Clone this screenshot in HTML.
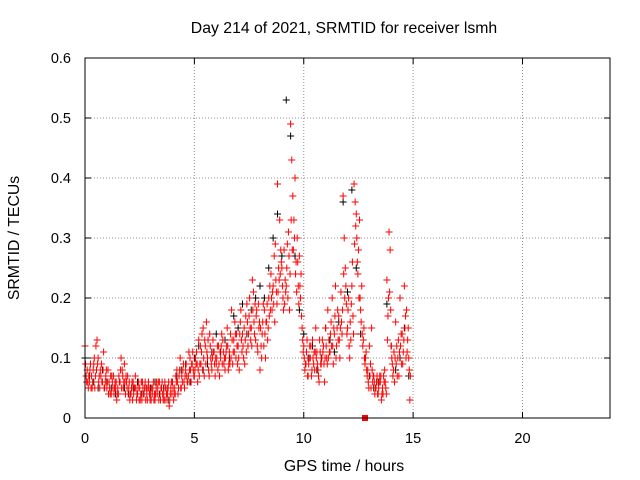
<!DOCTYPE html>
<html><head><meta charset="utf-8"><style>
body{margin:0;background:#fff;}
svg{display:block;font-family:"Liberation Sans",sans-serif;}
</style></head><body>
<svg id="chart" width="640" height="480">
<rect width="640" height="480" fill="#fff"/>
<text x="344" y="33" font-size="15.8" text-anchor="middle">Day 214 of 2021, SRMTID for receiver lsmh</text>
<text x="344" y="471" font-size="15.8" text-anchor="middle">GPS time / hours</text>
<text x="19" y="238" font-size="15.8" text-anchor="middle" transform="rotate(-90 19 238)">SRMTID / TECUs</text>
<g id="grid"></g>
<g id="ticks"></g>
<g id="black"></g>
<g id="red"></g>
<rect x="85" y="58" width="525" height="360" fill="none" stroke="#000"/>
</svg>
<script>
const xTicks = [0,5,10,15,20];
const yTicks = [0,0.1,0.2,0.3,0.4,0.5,0.6];
const yTickLabels = ["0","0.1","0.2","0.3","0.4","0.5","0.6"];
const redTimes = [0,.1,.2,.3,.4,.5,.6,.7,.8,.9,1,1.1,1.2,1.3,1.4,1.5,1.6,1.7,1.8,1.9,2,2.1,2.2,2.3,2.4,2.5,2.6,2.7,2.8,2.9,3,3.1,3.2,3.3,3.4,3.5,3.6,3.7,3.8,3.9,4,4.1,4.2,4.3,4.4,4.5,4.6,4.7,4.8,4.9,5,5.1,5.2,5.3,5.4,5.5,5.6,5.7,5.8,5.9,6,6.1,6.2,6.3,6.4,6.5,6.6,6.7,6.8,6.9,7,7.1,7.2,7.3,7.4,7.5,7.6,7.7,7.8,7.9,8,8.1,8.2,8.3,8.4,8.5,8.6,8.7,8.8,8.9,9,9.1,9.2,9.3,9.4,9.5,9.6,9.7,9.8,9.9,10,10.1,10.2,10.3,10.4,10.5,10.6,10.7,10.8,10.9,11,11.1,11.2,11.3,11.4,11.5,11.6,11.7,11.8,11.9,12,12.1,12.2,12.3,12.4,12.5,12.6,12.7,12.8,12.9,13,13.1,13.2,13.3,13.4,13.5,13.6,13.7,13.8,13.9,14,14.1,14.2,14.3,14.4,14.5,14.6,14.7,14.8];
const redA = [.12,.08,.06,.07,.09,.12,.10,.08,.06,.05,.05,.06,.04,.07,.05,.05,.06,.08,.09,.06,.05,.04,.06,.07,.04,.05,.03,.04,.05,.06,.04,.05,.03,.04,.06,.05,.04,.03,.05,.04,.06,.05,.08,.07,.05,.09,.08,.06,.10,.09,.07,.11,.13,.09,.15,.12,.10,.14,.08,.11,.09,.12,.10,.13,.08,.15,.11,.18,.13,.10,.12,.16,.14,.09,.19,.17,.15,.21,.13,.11,.08,.14,.18,.16,.20,.24,.22,.29,.39,.33,.25,.28,.22,.31,.49,.37,.40,.30,.27,.17,.12,.09,.07,.10,.13,.08,.11,.06,.09,.12,.15,.18,.11,.20,.14,.12,.17,.21,.37,.25,.15,.10,.22,.39,.34,.28,.18,.12,.09,.07,.12,.15,.07,.05,.04,.06,.05,.08,.23,.31,.12,.08,.16,.10,.20,.14,.22,.18,.10];
const redB = [.07,.05,.09,.06,.05,.13,.07,.09,.11,.07,.08,.04,.06,.05,.03,.07,.10,.05,.04,.07,.03,.06,.05,.03,.06,.04,.05,.06,.03,.04,.05,.03,.05,.06,.03,.04,.06,.05,.02,.06,.03,.07,.04,.10,.06,.05,.07,.11,.06,.08,.10,.06,.09,.14,.07,.16,.08,.10,.13,.07,.12,.07,.14,.09,.11,.08,.14,.09,.16,.12,.08,.13,.10,.17,.12,.15,.23,.14,.18,.15,.12,.19,.10,.13,.22,.18,.27,.21,.25,.28,.20,.23,.29,.18,.43,.33,.26,.22,.20,.13,.08,.13,.10,.07,.09,.15,.08,.11,.13,.06,.10,.13,.16,.09,.22,.18,.10,.14,.30,.19,.20,.13,.17,.36,.26,.33,.22,.15,.11,.06,.09,.06,.04,.07,.06,.03,.07,.05,.17,.28,.09,.06,.12,.07,.14,.11,.17,.13,.03];
const redC = [.09,.06,.08,.05,.10,.08,.06,.07,.08,.06,.06,.05,.07,.04,.06,.04,.08,.07,.06,.05,.06,.05,.04,.05,.05,.03,.06,.05,.04,.05,.03,.06,.04,.05,.04,.06,.03,.04,.06,.05,.05,.04,.06,.08,.07,.06,.09,.07,.08,.11,.08,.09,.07,.11,.10,.09,.13,.12,.10,.09,.10,.09,.12,.11,.10,.12,.09,.13,.11,.14,.10,.18,.12,.13,.16,.20,.12,.16,.17,.19,.15,.16,.14,.19,.17,.20,.19,.23,.21,.24,.22,.19,.25,.27,.33,.28,.24,.26,.22,.15,.10,.11,.09,.12,.10,.11,.09,.13,.10,.09,.12,.10,.14,.12,.17,.15,.13,.16,.24,.22,.18,.16,.26,.29,.30,.20,.16,.13,.10,.08,.07,.08,.06,.06,.05,.07,.04,.06,.13,.21,.10,.11,.09,.13,.12,.09,.15,.11,.08];
const redD = [.06,.07,.05,.08,.07,.09,.05,.06,.05,.08,.04,.07,.05,.06,.04,.06,.05,.06,.07,.04,.04,.03,.05,.04,.03,.06,.04,.03,.05,.03,.04,.04,.06,.03,.05,.03,.05,.04,.03,.04,.04,.06,.05,.05,.08,.07,.06,.08,.09,.07,.09,.08,.12,.08,.13,.11,.07,.09,.11,.10,.08,.11,.09,.10,.12,.09,.10,.11,.14,.09,.14,.11,.15,.11,.14,.13,.18,.19,.12,.16,.10,.12,.16,.15,.18,.21,.16,.19,.23,.26,.18,.21,.20,.24,.28,.30,.21,.19,.24,.11,.09,.07,.12,.08,.11,.10,.07,.09,.11,.10,.09,.11,.12,.15,.10,.13,.15,.18,.20,.14,.12,.19,.14,.32,.24,.20,.14,.10,.08,.05,.05,.07,.05,.04,.07,.04,.06,.04,.20,.18,.07,.10,.07,.11,.09,.13,.10,.15,.07];
const blackTimes = [0,.2,.4,.6,.8,1,1.2,1.4,1.6,1.8,2,2.2,2.4,2.6,2.8,3,3.2,3.4,3.6,3.8,4,4.2,4.4,4.6,4.8,5,5.2,5.4,5.6,5.8,6,6.2,6.4,6.6,6.8,7,7.2,7.4,7.6,7.8,8,8.2,8.4,8.6,8.8,9,9.2,9.4,9.6,9.8,10,10.2,10.4,10.6,10.8,11,11.2,11.4,11.6,11.8,12,12.2,12.4,12.6,12.8,13,13.2,13.4,13.6,13.8,14,14.2,14.4,14.6,14.8];
const blackValues = [.10,.07,.06,.05,.08,.06,.05,.04,.06,.05,.04,.05,.06,.04,.05,.05,.06,.04,.05,.03,.06,.07,.08,.09,.06,.10,.12,.08,.09,.11,.14,.11,.13,.10,.17,.15,.19,.14,.18,.20,.22,.20,.25,.30,.34,.27,.53,.47,.27,.18,.14,.10,.12,.08,.10,.15,.13,.11,.16,.36,.21,.38,.25,.14,.10,.07,.05,.06,.05,.19,.12,.08,.10,.15,.07];
const squareTimes = [12.8];
const squareValues = [0];

const X0=85,X1=610,Y0=418,Y1=58;
const xs = t => X0 + (t/24)*(X1-X0);
const ys = v => Y0 - (v/0.6)*(Y0-Y1);
const NS="http://www.w3.org/2000/svg";
function mk(tag, attrs, parent){const e=document.createElementNS(NS,tag);for(const k in attrs)e.setAttribute(k,attrs[k]);parent.appendChild(e);return e;}
const grid=document.getElementById('grid'), ticks=document.getElementById('ticks');
xTicks.forEach(t=>{
  const x=xs(t);
  if(t>0){const g=mk('line',{x1:x,x2:x,y1:Y1,y2:Y0,stroke:'#909090','stroke-dasharray':'1,2'},grid);
  
  }
  mk('line',{x1:x,x2:x,y1:Y0,y2:Y0-6,stroke:'#000'},ticks);
  mk('line',{x1:x,x2:x,y1:Y1,y2:Y1+6,stroke:'#000'},ticks);
  const l=mk('text',{x:x,y:443,'font-size':14.5,'text-anchor':'middle'},ticks);l.textContent=t;
  
  
});
yTicks.forEach((v,i)=>{
  const y=ys(v);
  if(v>0&&v<0.6){const g=mk('line',{x1:X0,x2:X1,y1:y,y2:y,stroke:'#909090','stroke-dasharray':'1,2'},grid);
  
  }
  mk('line',{x1:X0,x2:X0+6,y1:y,y2:y,stroke:'#000'},ticks);
  mk('line',{x1:X1,x2:X1-6,y1:y,y2:y,stroke:'#000'},ticks);
  const l=mk('text',{x:71,y:y+5,'font-size':14.5,'text-anchor':'end'},ticks);l.textContent=yTickLabels[i];
  
  
});
function plus(t,v,color,parent){
  const x=xs(t),y=ys(v);
  const p=mk('path',{d:`M${x-3.5},${y}H${x+3.5}M${x},${y-3.5}V${y+3.5}`,stroke:color,'stroke-width':1,fill:'none'},parent);
  
  
}
const bg=document.getElementById('black'), rg=document.getElementById('red');
blackTimes.forEach((t,i)=>plus(t,blackValues[i],'#000',bg));
redTimes.forEach((t,i)=>{
  plus(t,redA[i],'#ff0000',rg);
  plus(t+0.025,redC[i],'#ff0000',rg);
  plus(t+0.05,redB[i],'#ff0000',rg);
  plus(t+0.075,redD[i],'#ff0000',rg);
});
squareTimes.forEach((t,i)=>{
  const s=mk('rect',{x:xs(t)-3,y:ys(squareValues[i])-3,width:6,height:6,fill:'#ff0000'},rg);
  
  
});
</script>
</body></html>
